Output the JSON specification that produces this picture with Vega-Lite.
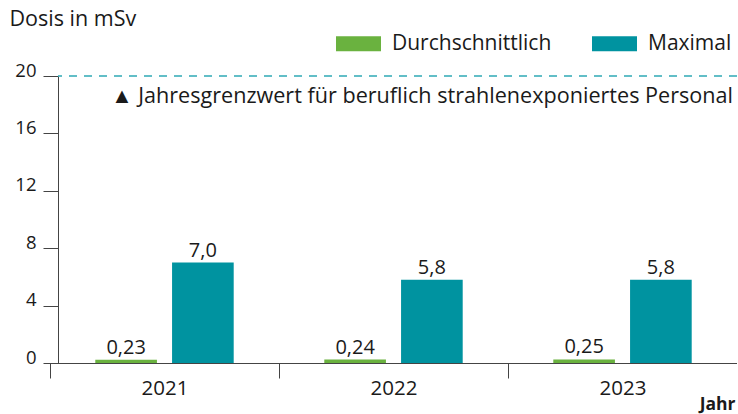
{
  "$schema": "https://vega.github.io/schema/vega-lite/v6.json",
  "autosize": {"type": "none"},
  "padding": {"left": 58, "top": 76, "right": 0, "bottom": 51},
  "width": 679,
  "height": 287,
  "config": {
    "font": "Open Sans",
    "view": {"stroke": null},
    "axis": {"domainColor": "#444", "tickColor": "#444", "labelColor": "#1a1a1a", "titleColor": "#1a1a1a", "grid": false, "labelFont": "Open Sans", "titleFont": "Open Sans"},
    "legend": {"labelFont": "Open Sans"}
  },
  "datasets": {
    "doses": [
      {"year": "2021", "series": "Durchschnittlich", "value": 0.23, "label": "0,23"},
      {"year": "2021", "series": "Maximal", "value": 7.0, "label": "7,0"},
      {"year": "2022", "series": "Durchschnittlich", "value": 0.24, "label": "0,24"},
      {"year": "2022", "series": "Maximal", "value": 5.8, "label": "5,8"},
      {"year": "2023", "series": "Durchschnittlich", "value": 0.25, "label": "0,25"},
      {"year": "2023", "series": "Maximal", "value": 5.8, "label": "5,8"}
    ],
    "limit": [
      {"limit": 20, "note": "▲ Jahresgrenzwert für beruflich strahlenexponiertes Personal"}
    ]
  },
  "layer": [
    {
      "data": {"name": "limit"},
      "mark": {"type": "rule", "strokeDash": [8, 7], "strokeWidth": 1.5, "color": "#2fa9b5"},
      "encoding": {
        "y": {"field": "limit", "type": "quantitative", "scale": {"domain": [0, 20]}}
      }
    },
    {
      "data": {"name": "limit"},
      "mark": {"type": "text", "align": "right", "baseline": "alphabetic", "fontSize": 21.6, "dx": -4, "dy": 27, "color": "#1a1a1a"},
      "encoding": {
        "x": {"value": "width"},
        "y": {"field": "limit", "type": "quantitative"},
        "text": {"field": "note"}
      }
    },
    {
      "data": {"name": "doses"},
      "mark": {"type": "bar"},
      "encoding": {
        "x": {
          "field": "year", "type": "nominal",
          "scale": {"paddingInner": 0, "paddingOuter": 0, "range": [-8, 679]},
          "axis": {"labelAngle": 0, "tickBand": "extent", "tickSize": 15, "labelPadding": 0, "labelFontSize": 20.5, "title": "Jahr", "titleAnchor": "end", "titleAlign": "right", "titleBaseline": "alphabetic", "titleX": 677, "titleY": 46, "titleFontWeight": "bold", "titleFontSize": 17.5}
        },
        "xOffset": {"field": "series", "type": "nominal", "scale": {"paddingInner": 0.197, "paddingOuter": 0.59}},
        "y": {
          "field": "value", "type": "quantitative",
          "scale": {"domain": [0, 20]},
          "axis": {"values": [0, 4, 8, 12, 16, 20], "tickSize": 15, "labelPadding": 7, "labelFontSize": 18.5, "labelBaseline": "alphabetic", "title": "Dosis in mSv", "titleAngle": 0, "titleAlign": "left", "titleBaseline": "alphabetic", "titleX": -49, "titleY": -51, "titleFontSize": 21.5, "titleFontWeight": "normal"}
        },
        "color": {
          "field": "series", "type": "nominal",
          "scale": {"domain": ["Durchschnittlich", "Maximal"], "range": ["#6ab23f", "#0093a0"]},
          "legend": {"title": null, "orient": "none", "legendX": 278, "legendY": -55, "direction": "horizontal", "symbolType": "M-1,-0.333H1V0.333H-1Z", "symbolSize": 2025, "symbolStrokeWidth": 0, "labelFontSize": 21, "labelColor": "#1a1a1a", "labelOffset": 11, "columnPadding": 40, "padding": 0}
        }
      }
    },
    {
      "data": {"name": "doses"},
      "mark": {"type": "text", "baseline": "alphabetic", "dy": -6, "fontSize": 20, "color": "#1a1a1a"},
      "encoding": {
        "x": {"field": "year", "type": "nominal"},
        "xOffset": {"field": "series", "type": "nominal"},
        "y": {"field": "value", "type": "quantitative"},
        "text": {"field": "label"}
      }
    }
  ]
}
